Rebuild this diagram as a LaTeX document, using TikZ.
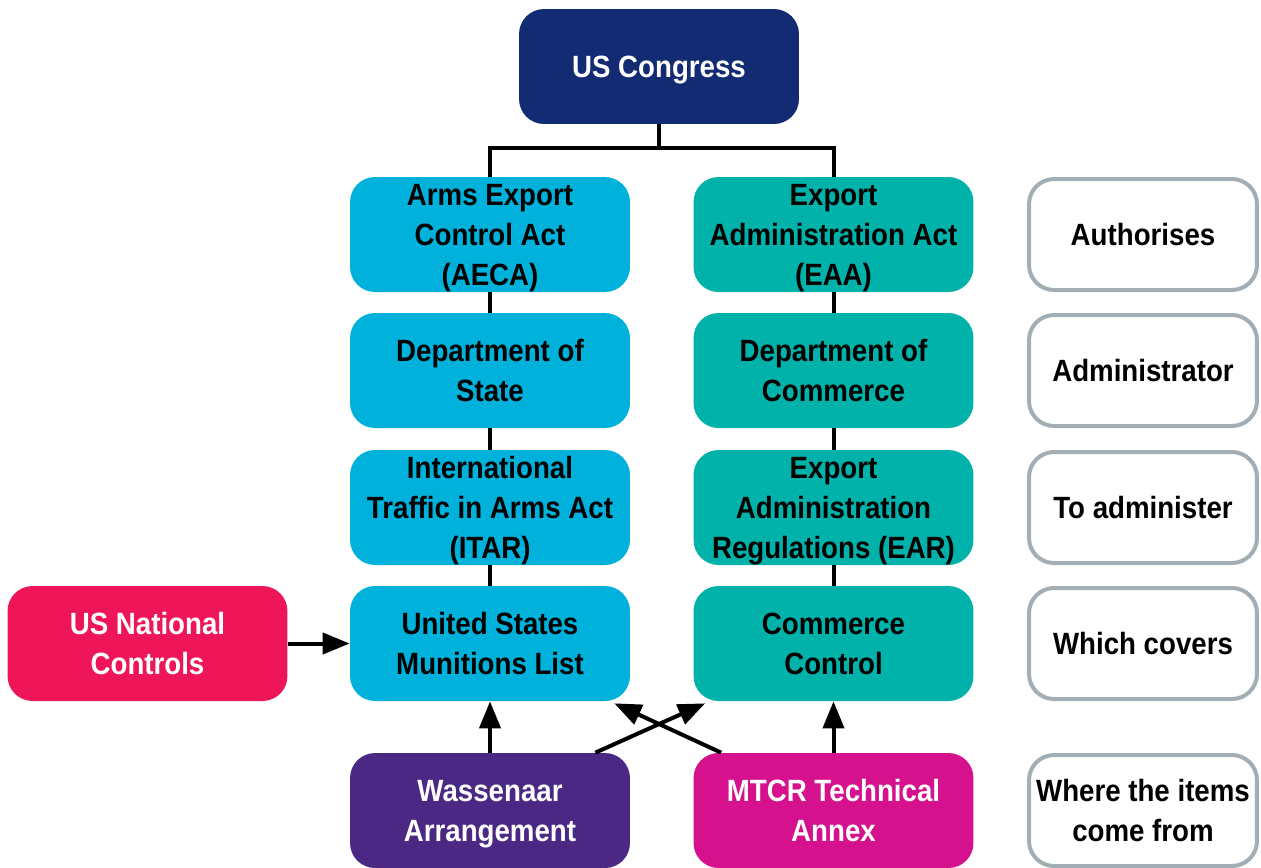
\documentclass[tikz,border=0pt]{standalone}
\usepackage{fontspec}
\setmainfont[FakeStretch=0.9]{Liberation Sans}
\usetikzlibrary{arrows.meta}

\definecolor{navy}{HTML}{132B72}
\definecolor{stateblue}{HTML}{00B2DB}
\definecolor{commteal}{HTML}{00B2A9}
\definecolor{natred}{HTML}{EE1559}
\definecolor{wasspurple}{HTML}{4B2884}
\definecolor{mtcrpink}{HTML}{D6118E}
\definecolor{greyline}{HTML}{A3ADB4}

\begin{document}
\begin{tikzpicture}[x=0.02cm,y=-0.02cm,
    box/.style={rounded corners=0.5cm,minimum width=5.6cm,minimum height=2.3cm,
        inner sep=0pt,align=center,text depth=-0.06cm,
        font=\bfseries\fontsize{17.5}{22.8}\selectfont},
    tagbox/.style={box,draw=greyline,line width=0.08cm,fill=white,
        minimum width=4.56cm,minimum height=2.22cm},
    link/.style={line width=0.08cm},
    feed/.style={link,-{Triangle[length=0.54cm,width=0.42cm]}}]
    \useasboundingbox (0,0) rectangle (1261,867);

    % Congress and the two columns
    \node[box,fill=navy,text=white] (congress) at (659,66.5) {US Congress};
    \node[box,fill=stateblue] (aeca) at (490,234.5) {Arms Export\\Control Act\\(AECA)};
    \node[box,fill=commteal] (eaa) at (833.5,234.5) {Export\\Administration Act\\(EAA)};
    \node[box,fill=stateblue] (state) at (490,370.5) {Department of\\State};
    \node[box,fill=commteal] (commerce) at (833.5,370.5) {Department of\\Commerce};
    \node[box,fill=stateblue] (itar) at (490,507.5) {International\\Traffic in Arms Act\\(ITAR)};
    \node[box,fill=commteal] (ear) at (833.5,507.5) {Export\\Administration\\Regulations (EAR)};
    \node[box,fill=stateblue] (usml) at (490,643.5) {United States\\Munitions List};
    \node[box,fill=commteal] (ccl) at (833.5,643.5) {Commerce\\Control};

    % Sources
    \node[box,fill=natred,text=white] (national) at (147.5,643.5) {US National\\Controls};
    \node[box,fill=wasspurple,text=white] (wass) at (490,810.5) {Wassenaar\\Arrangement};
    \node[box,fill=mtcrpink,text=white] (mtcr) at (833.5,810.5) {MTCR Technical\\Annex};

    % Side labels
    \node[tagbox] (authorises) at (1143,234.5) {Authorises};
    \node[tagbox] (administrator) at (1143,370.5) {Administrator};
    \node[tagbox] (administer) at (1143,507.5) {To administer};
    \node[tagbox] (covers) at (1143,643.5) {Which covers};
    \node[tagbox] (items) at (1143,810.5) {Where the items\\come from};

    % Connectors
    \coordinate (split) at (659,148);
    \draw[link] (congress) -- (split);
    \draw[link] (aeca.north) |- (split) -| (eaa.north);
    \draw[link] (aeca) -- (state);
    \draw[link] (state) -- (itar);
    \draw[link] (itar) -- (usml);
    \draw[link] (eaa) -- (commerce);
    \draw[link] (commerce) -- (ear);
    \draw[link] (ear) -- (ccl);

    \draw[feed] (national) -- (usml);
    \draw[feed] (wass) -- (usml);
    \draw[feed] (mtcr) -- (ccl);
    \draw[feed] ([xshift=-0.7cm]wass.north east) -- ([xshift=0.24cm,yshift=-0.04cm]ccl.south west);
    \draw[feed] ([xshift=0.56cm]mtcr.north west) -- ([xshift=-0.32cm,yshift=-0.04cm]usml.south east);
\end{tikzpicture}
\end{document}
